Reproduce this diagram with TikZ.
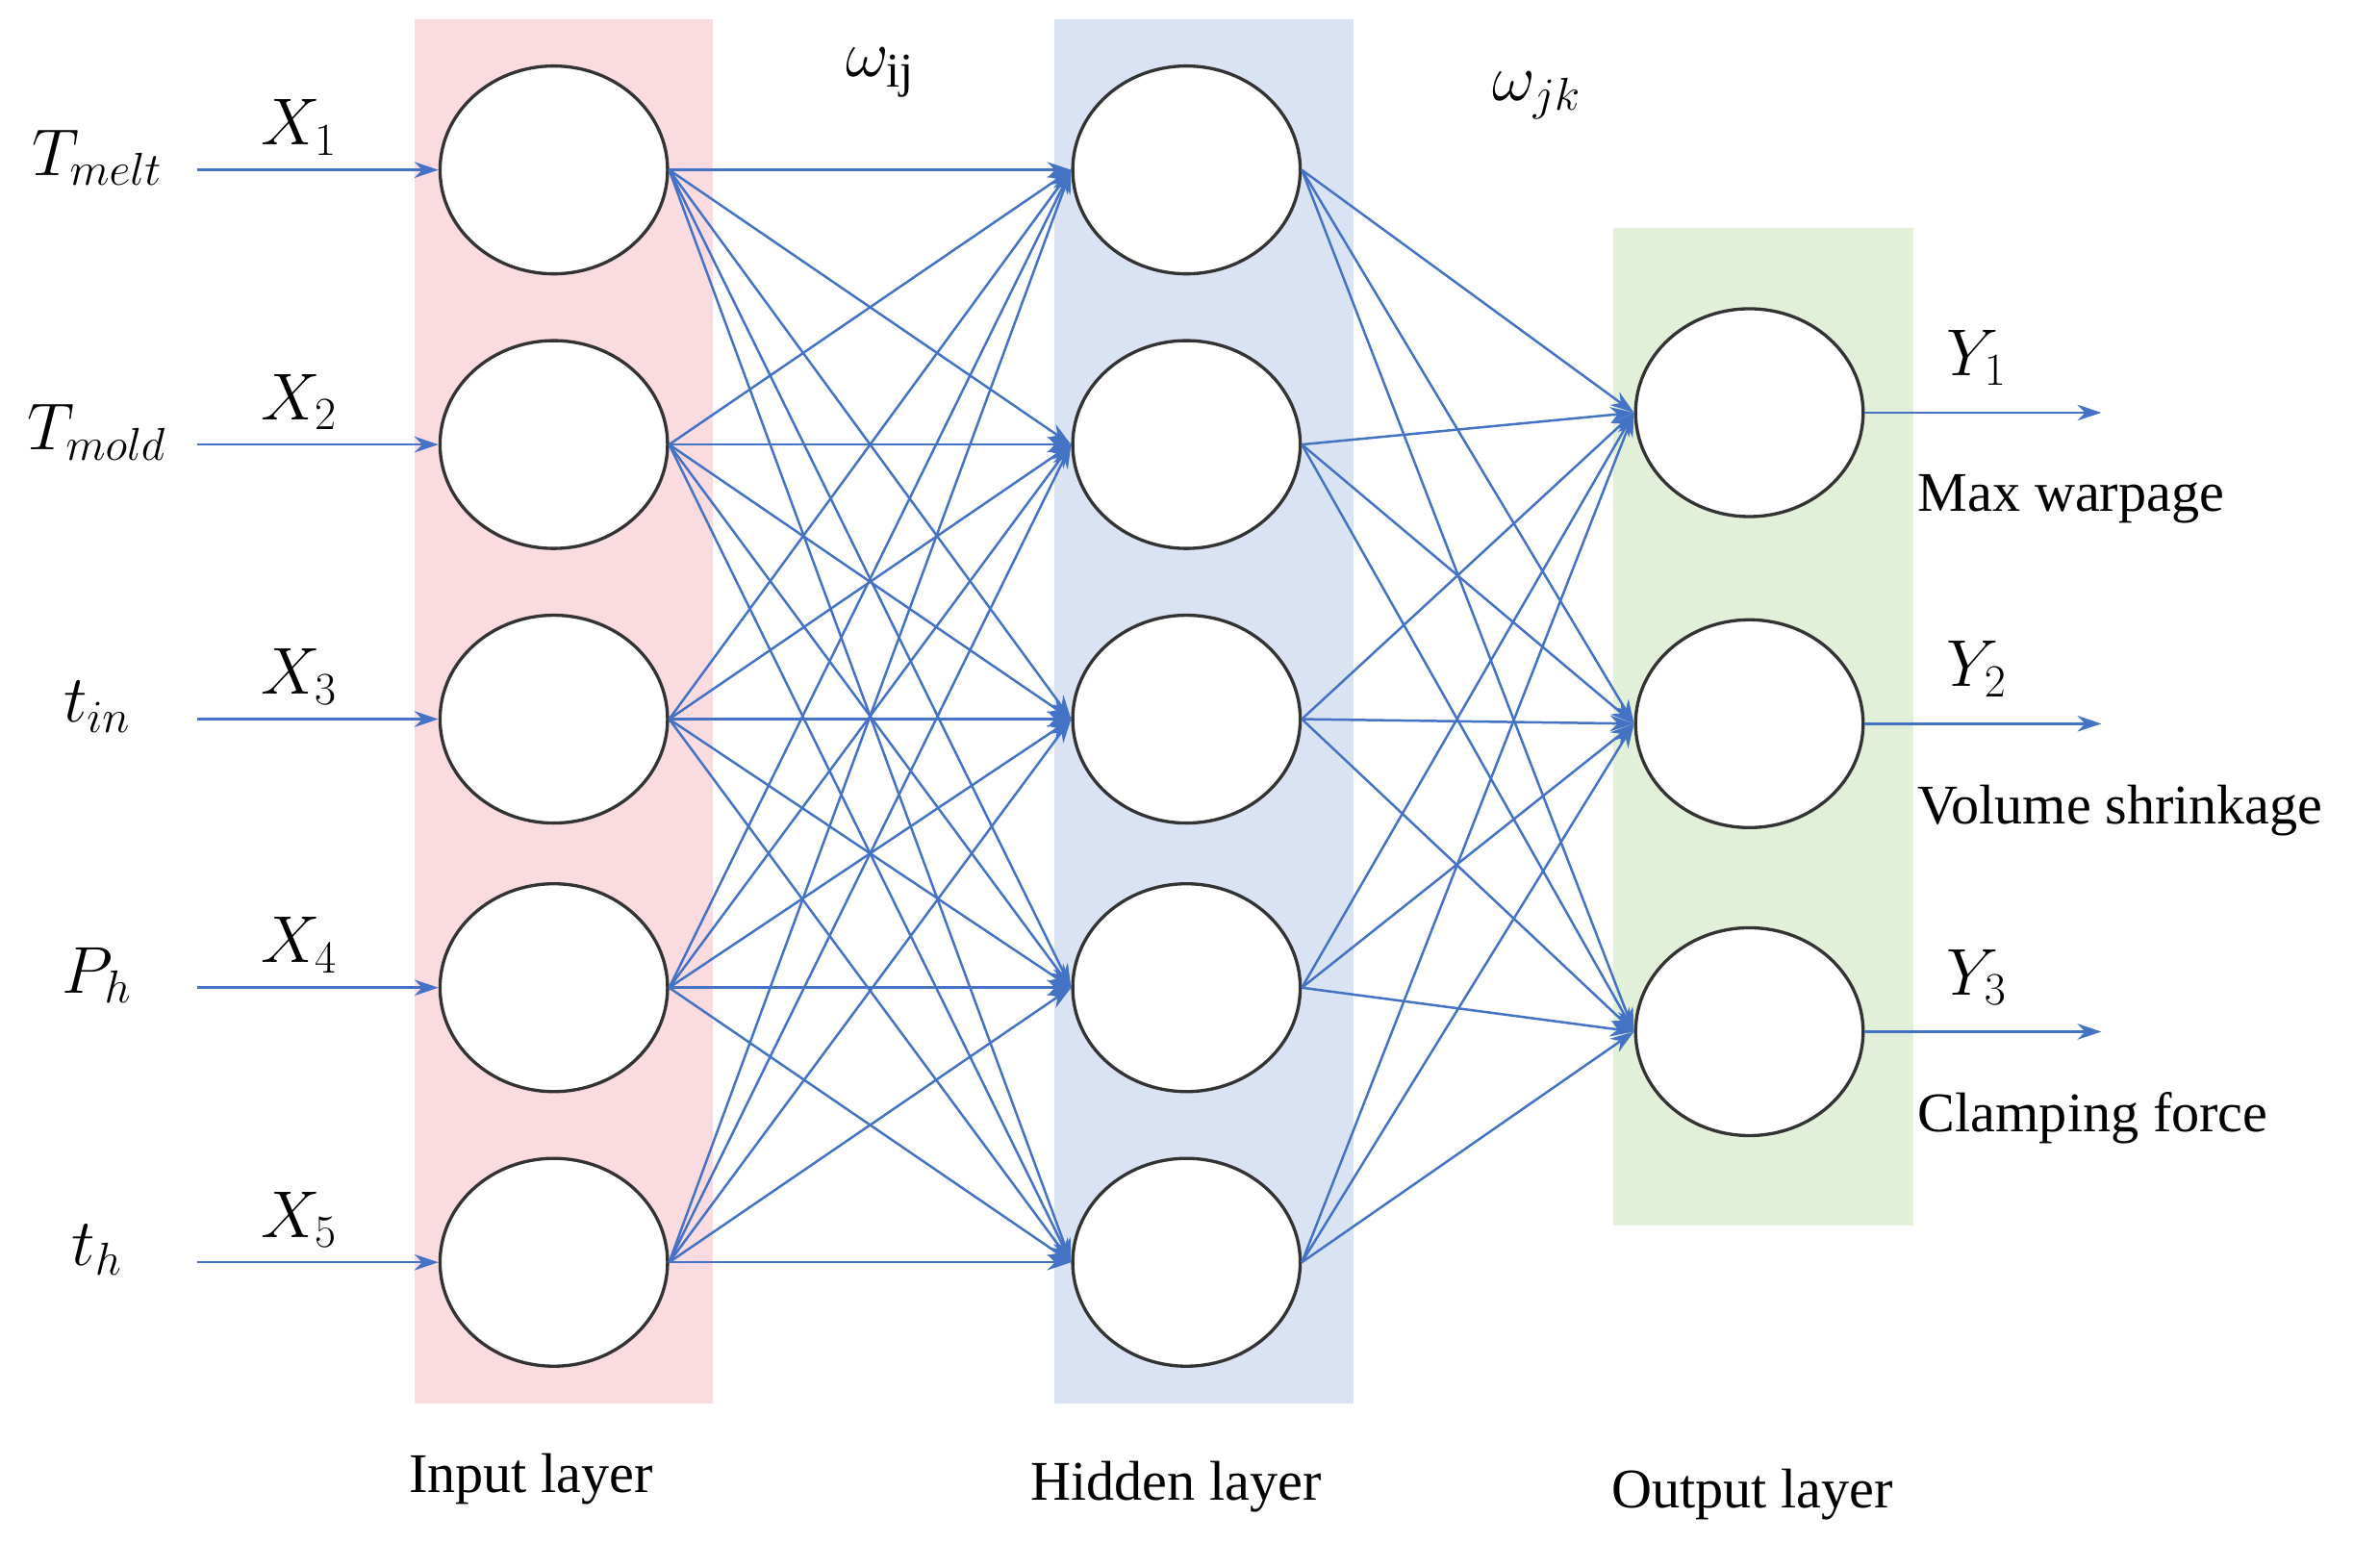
\documentclass[tikz,border=0pt]{standalone}
\usepackage{fontspec}
\setmainfont{Liberation Serif}
\usetikzlibrary{arrows.meta,shapes.geometric}
\definecolor{eblue}{RGB}{68,114,196}
\definecolor{bgpink}{RGB}{249,219,224}
\definecolor{bgblue}{RGB}{218,227,243}
\definecolor{bggreen}{RGB}{226,240,217}
\begin{document}
\begin{tikzpicture}[x=0.02cm,y=-0.02cm,
  neuron/.style={draw=black!80,line width=1.2pt,fill=white,ellipse,minimum width=3cm,minimum height=2.74cm,inner sep=0},
  edge/.style={draw=eblue,line width=0.9pt,-{Stealth[length=9pt,width=6pt]}},
  lbl/.style={font=\fontsize{26}{30}\selectfont},
  txt/.style={font=\fontsize{21}{25}\selectfont}]
\useasboundingbox (0,0) rectangle (1568,1033);
\fill[bgpink] (273,13) rectangle (470,925);
\fill[bgblue] (695,13) rectangle (892,925);
\fill[bggreen] (1063,150) rectangle (1261,808);
\foreach \i/\y in {1/112,2/293,3/474,4/651,5/832}{
  \node[neuron] (i\i) at (365,\y) {};
  \node[neuron] (h\i) at (782,\y) {};
}
\foreach \k/\y in {1/272,2/477,3/680}{ \node[neuron] (o\k) at (1153,\y) {}; }
\foreach \i in {1,...,5}{\foreach \j in {1,...,5}{\draw[edge] (i\i.east) -- (h\j.west);}}
\foreach \j in {1,...,5}{\foreach \k in {1,2,3}{\draw[edge] (h\j.east) -- (o\k.west);}}
\foreach \i/\y/\t in {1/112/{T_{melt}},2/293/{T_{mold}},3/474/{t_{in}},4/651/{P_h},5/832/{t_h}}{
  \coordinate (s\i) at (130,\y);
  \draw[edge] (s\i) -- (i\i.west);
  \node[lbl] (v\i) at (64,\y-8) {$\t$};
  \node[lbl] (x\i) at (197,\y-28) {$X_{\i}$};
}
\foreach \k/\y/\t in {1/272/Max warpage,2/477/Volume shrinkage,3/680/Clamping force}{
  \coordinate (e\k) at (1385,\y);
  \draw[edge] (o\k.east) -- (e\k);
  \node[lbl] (y\k) at (1303,\y-36) {$Y_{\k}$};
  \node[txt,anchor=west] (t\k) at (1258,\y+57) {\t};
}
\node[lbl] (wij) at (580,48) {$\omega_{\mathrm{ij}}$};
\node[lbl] (wjk) at (1013,63) {$\omega_{jk}$};
\node[txt] (l1) at (350,975) {Input layer};
\node[txt] (l2) at (775,980) {Hidden layer};
\node[txt] (l3) at (1155,985) {Output layer};
\end{tikzpicture}
\end{document}
